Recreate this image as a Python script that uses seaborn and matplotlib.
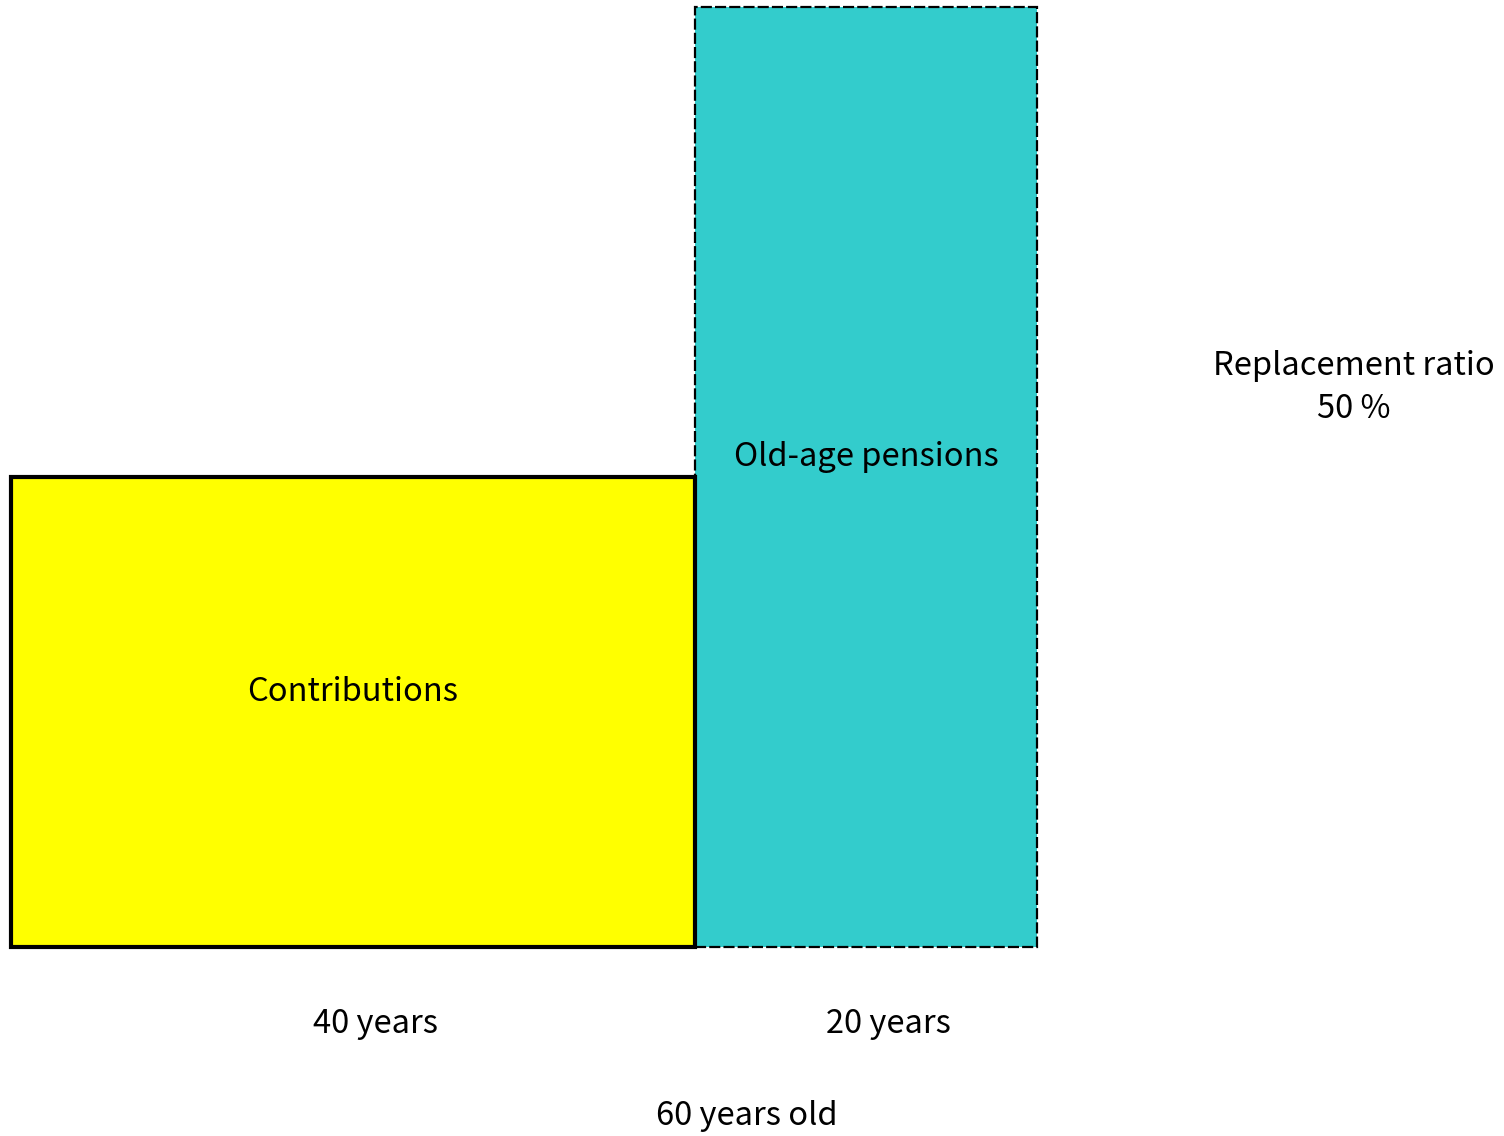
import matplotlib
matplotlib.use("Agg")
import matplotlib.pyplot as plt
import seaborn as sns

# === Dati ===
phases = ["Contributions", "Old-age pensions"]
durations = [40, 20]          # anni
levels = [1.0, 2.0]           # livello relativo (contributi vs pensione)
duration_labels = ["40 years", "20 years"]
colors = ["#ffff00", "#33cccc"]
line_styles = ["solid", (0, (5, 1.4))]
line_widths = [3.0, 1.6]
age_label = "60 years old"
ratio_label = "Replacement ratio\n50 %"

sns.set_theme(style="white")
plt.rcParams["font.family"] = ["Noto Sans CJK JP", "DejaVu Sans"]
fs = 23.5

fig = plt.figure(figsize=(15.04, 11.36), dpi=100)
ax = fig.add_axes([0, 0, 1, 1])

# === Rettangoli ===
starts = [0, durations[0]]
for i in range(len(phases)):
    ax.bar(starts[i], levels[i], width=durations[i], align="edge",
           color=colors[i], edgecolor="black", linewidth=line_widths[i],
           linestyle=line_styles[i], zorder=2 - i)
    ax.text(starts[i] + durations[i] / 2, levels[i] / 2 + 0.043,
            phases[i], ha="center", va="center", fontsize=fs, color="black", zorder=5)
    ax.text(starts[i] + durations[i] / 2 + 1.3, -0.163, duration_labels[i],
            ha="center", va="center", fontsize=fs, color="black")

ax.text(43.0, -0.36, age_label, ha="center", va="center", fontsize=fs, color="black")
ax.text(78.5, 1.19, ratio_label, ha="center", va="center", fontsize=fs,
        color="black", linespacing=1.45)

ax.set_xlim(-0.64, 87.3)
ax.set_ylim(-0.402, 2.015)
ax.axis("off")

fig.savefig("out.png", dpi=100)
